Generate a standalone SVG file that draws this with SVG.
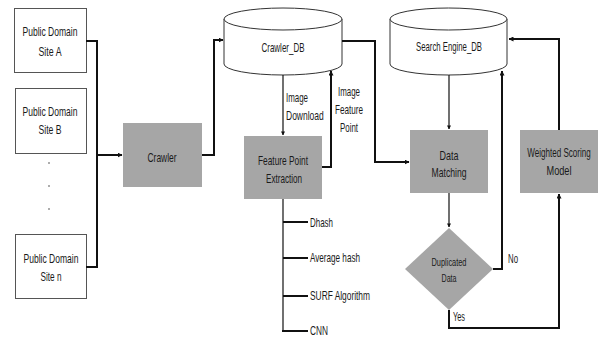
<svg xmlns="http://www.w3.org/2000/svg" width="601" height="338" viewBox="0 0 601 338">
<defs>
<marker id="ah" viewBox="0 0 10 10" refX="9" refY="5" markerWidth="5" markerHeight="5" markerUnits="userSpaceOnUse" orient="auto"><path d="M0,0 L10,5 L0,10 z" fill="#111"/></marker>
<marker id="ahs" viewBox="0 0 10 10" refX="9" refY="5" markerWidth="4" markerHeight="5" markerUnits="userSpaceOnUse" orient="auto"><path d="M0,0 L10,5 L0,10 z" fill="#111"/></marker>
</defs>
<style>
text{font-family:"Liberation Sans",Arial,sans-serif;font-size:13px;fill:#1a1a1a;text-anchor:middle}
.s{text-anchor:start}
.sm{font-size:10.5px}
.site{fill:#fff;stroke:#555;stroke-width:1}
.proc{fill:#a6a6a6;stroke:none}
.cyl{fill:#fff;stroke:#333;stroke-width:1}
.thick{fill:none;stroke:#111;stroke-width:2}
.thin{fill:none;stroke:#111;stroke-width:1.2}
</style>
<rect width="601" height="338" fill="#fff"/>

<g id="siteA"><rect class="site" x="14.5" y="8.5" width="72" height="64"/><text x="50" y="36" textLength="55" lengthAdjust="spacingAndGlyphs">Public Domain</text><text x="50" y="56" textLength="23" lengthAdjust="spacingAndGlyphs">Site A</text></g>
<g id="siteB"><rect class="site" x="15.5" y="88.5" width="71" height="65"/><text x="50" y="116" textLength="55" lengthAdjust="spacingAndGlyphs">Public Domain</text><text x="50" y="134" textLength="23" lengthAdjust="spacingAndGlyphs">Site B</text></g>
<g id="dots" fill="#444"><circle cx="49" cy="163" r="0.8"/><circle cx="49" cy="186" r="0.8"/><circle cx="49" cy="209" r="0.8"/></g>
<g id="siteN"><rect class="site" x="15.5" y="234.5" width="71" height="64"/><text x="51" y="263" textLength="55" lengthAdjust="spacingAndGlyphs">Public Domain</text><text x="51" y="281" textLength="21" lengthAdjust="spacingAndGlyphs">Site n</text></g>

<g id="crawler"><rect class="proc" x="123" y="123" width="79" height="64"/><text x="162" y="162" textLength="29" lengthAdjust="spacingAndGlyphs">Crawler</text></g>

<g id="crawlerDB"><path class="cyl" d="M224,19 A59,11 0 0 1 342,19 L342,64 A59,11 0 0 1 224,64 Z"/><path class="cyl" d="M224,19 A59,11 0 0 0 342,19"/><text x="283" y="52" textLength="43" lengthAdjust="spacingAndGlyphs">Crawler_DB</text></g>

<g id="featureExtraction"><rect class="proc" x="244" y="136" width="78" height="63"/><text x="283" y="165" textLength="50" lengthAdjust="spacingAndGlyphs">Feature Point</text><text x="284" y="183" textLength="36" lengthAdjust="spacingAndGlyphs">Extraction</text></g>

<g id="methods"><text class="s" x="310" y="227" textLength="23" lengthAdjust="spacingAndGlyphs">Dhash</text><text class="s" x="310" y="262" textLength="50" lengthAdjust="spacingAndGlyphs">Average hash</text><text class="s" x="310" y="300" textLength="60" lengthAdjust="spacingAndGlyphs">SURF Algorithm</text><text class="s" x="310" y="335" textLength="18" lengthAdjust="spacingAndGlyphs">CNN</text></g>

<g id="searchDB"><path class="cyl" d="M390,19 A58.5,11 0 0 1 507,19 L507,64 A58.5,11 0 0 1 390,64 Z"/><path class="cyl" d="M390,19 A58.5,11 0 0 0 507,19"/><text x="449" y="51" textLength="66" lengthAdjust="spacingAndGlyphs">Search Engine_DB</text></g>

<g id="dataMatching"><rect class="proc" x="410" y="130" width="78" height="63"/><text x="449" y="160" textLength="19" lengthAdjust="spacingAndGlyphs">Data</text><text x="449" y="177" textLength="35" lengthAdjust="spacingAndGlyphs">Matching</text></g>

<g id="weighted"><rect class="proc" x="520" y="130" width="78" height="63"/><text transform="translate(559,157) scale(0.62,1)" x="0" y="0">Weighted Scoring</text><text x="559" y="175" textLength="25" lengthAdjust="spacingAndGlyphs">Model</text></g>

<g id="duplicated"><polygon class="proc" points="449,228 493,269 449,310 405,269"/><text class="sm" x="449" y="266" textLength="35" lengthAdjust="spacingAndGlyphs">Duplicated</text><text class="sm" x="449" y="282" textLength="15" lengthAdjust="spacingAndGlyphs">Data</text></g>

<g id="connectors">
<polyline class="thick" points="86,41 97,41 97,267 86,267"/>
<line class="thick" x1="97" y1="155" x2="122" y2="155" marker-end="url(#ah)"/>
<polyline class="thick" points="202,155 214,155 214,40 223,40" marker-end="url(#ah)"/>
<line class="thin" x1="283" y1="75" x2="283" y2="135" marker-end="url(#ahs)"/>
<polyline class="thick" points="322,167 331,167 331,71" marker-end="url(#ah)"/>
<polyline class="thick" points="342,41 375,41 375,162 409,162" marker-end="url(#ah)"/>
<line class="thin" x1="449" y1="75" x2="449" y2="129" marker-end="url(#ahs)"/>
<line class="thin" x1="449" y1="193" x2="449" y2="227" marker-end="url(#ahs)"/>
<polyline class="thick" points="493,269 502,269 502,71" marker-end="url(#ah)"/>
<polyline class="thick" points="449,310 449,328 559,328 559,194" marker-end="url(#ah)"/>
<polyline class="thick" points="559,130 559,39 509,39" marker-end="url(#ah)"/>
<polyline class="thin" points="283,199 283,331"/>
<g class="thick"><line x1="283" y1="222" x2="308" y2="222"/><line x1="283" y1="258" x2="308" y2="258"/><line x1="283" y1="296" x2="308" y2="296"/><line x1="282" y1="331" x2="308" y2="331"/></g>
</g>

<g id="labels">
<text class="s" x="286" y="102" textLength="22" lengthAdjust="spacingAndGlyphs">Image</text>
<text class="s" transform="translate(286,120) scale(0.655,1)" x="0" y="0">Download</text>
<text x="349" y="96" textLength="22" lengthAdjust="spacingAndGlyphs">Image</text>
<text x="349" y="114" textLength="28" lengthAdjust="spacingAndGlyphs">Feature</text>
<text x="349" y="132" textLength="18" lengthAdjust="spacingAndGlyphs">Point</text>
<text class="s" x="508" y="263" textLength="10" lengthAdjust="spacingAndGlyphs">No</text>
<text class="s" x="453" y="321" textLength="12" lengthAdjust="spacingAndGlyphs">Yes</text>
</g>
</svg>
